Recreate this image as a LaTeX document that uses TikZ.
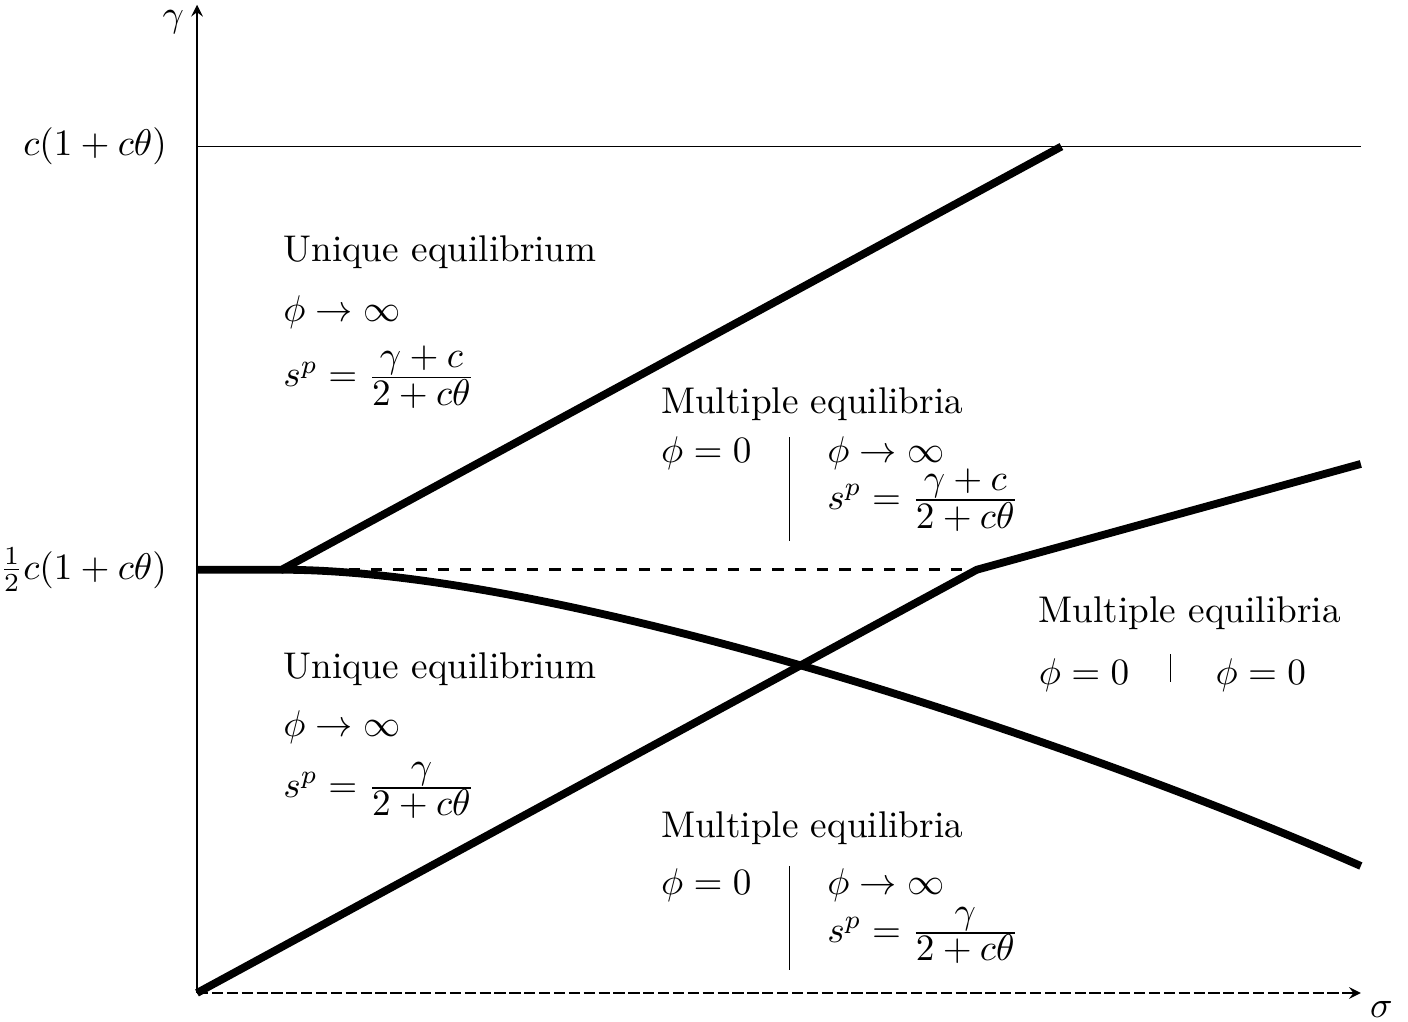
\documentclass[tikz,border=0pt]{standalone}
\usepackage{amsmath,amssymb}
\usetikzlibrary{arrows,calc}
\newcommand{\flatfrac}[2]{\frac{\displaystyle #1}{\displaystyle #2}}
\tikzset{lbl/.style={anchor=base west, inner sep=0pt},
	bold/.style={line width=2.1pt}}

\begin{document}
\begin{tikzpicture}[>=stealth]
	\useasboundingbox (-1.862,-0.274) rectangle (11.446,9.385);
	\foreach \x\y\t in {0/0/O,11/0/X,0/9.34/Y,0/8/T,11/8/TR,0/4/H,0.8/4/P,7.37/4/Q,8.17/8/R,11/5/E,11/1.2/F}
	\coordinate (\t) at (\x,\y);
	% axes
	\draw[->] (O)--(Y);
	\draw[->, dash pattern=on 3pt off 1pt] (O)--(X);
	\node[left] (gam) at (0,9.18) {$\gamma$};
	\node[anchor=north west, inner sep=0pt] (sig) at (11.08,-0.07) {$\sigma$};
	\draw (T)--(TR);
	\node[left=0.16cm] (top) at (T) {$c(1+c\theta)$};
	\node[left=0.16cm] (half) at (H) {$\frac{1}{2}c(1+c\theta)$};
	% boundaries
	\draw[bold] (H)--(P)--(R) (O)--(Q)--(E);
	\draw[bold] (P) .. controls (3.47,4) and (8.33,2.372) .. (F);
	\draw[dashed, thick] (P)--(Q);
	% regions
	\node[lbl] (uA) at (0.81,6.91) {Unique equilibrium};
	\node[lbl] (pA) at (0.81,6.35) {$\phi\to\infty$};
	\node[lbl] (sA) at (0.81,5.73) {$s^p=\flatfrac{\gamma+c}{2+c\theta}$};
	\node[lbl] (uB) at (0.81,2.97) {Unique equilibrium};
	\node[lbl] (pB) at (0.81,2.42) {$\phi\to\infty$};
	\node[lbl] (sB) at (0.81,1.85) {$s^p=\flatfrac{\gamma}{2+c\theta}$};
	\node[lbl] (mC) at (4.38,5.48) {Multiple equilibria};
	\node[lbl] (zC) at (4.38,5.01) {$\phi=0$};
	\node[lbl] (pC) at (5.95,5.01) {$\phi\to\infty$};
	\node[lbl] (sC) at (5.95,4.57) {$s^p=\flatfrac{\gamma+c}{2+c\theta}$};
	\draw (5.60,5.25)--(5.60,4.27);
	\node[lbl] (mD) at (4.38,1.47) {Multiple equilibria};
	\node[lbl] (zD) at (4.38,0.93) {$\phi=0$};
	\node[lbl] (pD) at (5.95,0.93) {$\phi\to\infty$};
	\node[lbl] (sD) at (5.95,0.48) {$s^p=\flatfrac{\gamma}{2+c\theta}$};
	\draw (5.60,1.20)--(5.60,0.22);
	\node[lbl] (mE) at (7.95,3.50) {Multiple equilibria};
	\node[lbl] (zE) at (7.95,2.92) {$\phi=0$};
	\node[lbl] (wE) at (9.62,2.92) {$\phi=0$};
	\draw (9.20,3.20)--(9.20,2.94);
\end{tikzpicture}
\end{document}
